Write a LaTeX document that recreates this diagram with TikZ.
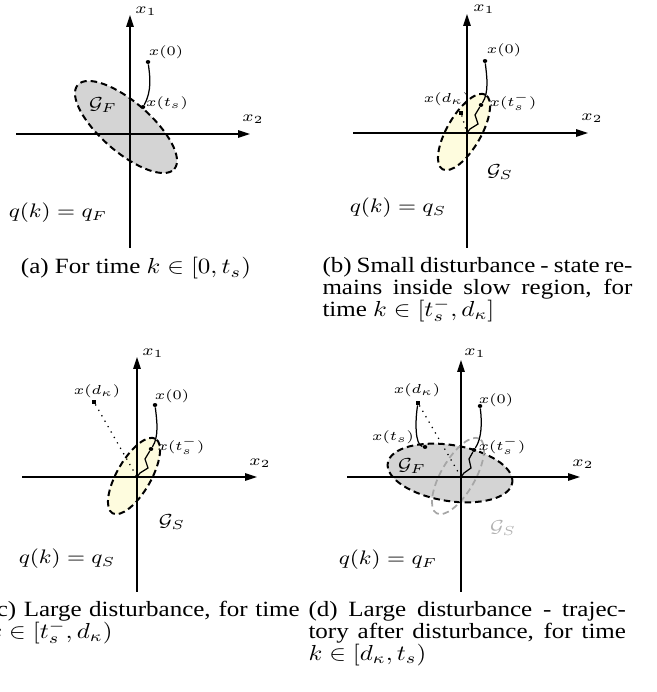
\documentclass[tikz,border=0pt]{standalone}
\usepackage{fontspec}
\setmainfont{Liberation Serif}
\usepackage{amsmath}
\usepackage{amssymb}
\usetikzlibrary{arrows.meta}
\definecolor{slowfill}{RGB}{254,252,222}
\definecolor{fastfill}{RGB}{212,212,212}
\newcommand{\capfont}{\fontsize{10}{10}\selectfont\lineskiplimit=-10pt\relax}

\begin{document}
\begin{tikzpicture}[
    x=0.4pt, y=0.4pt,
    every node/.append style={yscale=0.87, transform shape},
    axis/.style={line width=0.5pt, -{Triangle[length=4.8pt, width=3pt]}},
    fastset/.style={draw=black, fill=fastfill, dash pattern=on 2.6pt off 1.6pt, line width=0.8pt},
    slowset/.style={draw=black, fill=slowfill, dash pattern=on 2.6pt off 1.6pt, line width=0.8pt},
    oldset/.style={draw=black!35, dash pattern=on 2.6pt off 1.6pt, line width=0.7pt},
    traj/.style={line width=0.5pt},
    jump/.style={line width=0.5pt, dotted},
    statept/.style={circle, fill=black, inner sep=0pt, minimum size=1.8pt},
    distpt/.style={rectangle, fill=black, inner sep=0pt, minimum size=1.8pt},
    axlabel/.style={font=\fontsize{7}{8}\selectfont, inner sep=0pt},
    ptlabel/.style={font=\fontsize{6}{7}\selectfont, inner sep=0pt},
    setlabel/.style={font=\fontsize{8}{9}\selectfont, inner sep=0pt},
    modelabel/.style={font=\fontsize{9}{10}\selectfont, inner sep=0pt},
    subcap/.style={font=\capfont, inner sep=0pt}
]
\useasboundingbox (0,0) rectangle (657,692);

% (a) fast mode before the switch
\begin{scope}[shift={(130,558)}]
  \draw[fastset, rotate around={-41:(-4,7)}] (-4,7) ellipse [x radius=64, y radius=25];
  \draw[axis] (0,-114) -- (0,119);
  \draw[axis] (-114,0) -- (120,0);
  \node[axlabel] (ax1) at (16,123) {$x_1$};
  \node[axlabel] (ax2) at (123,15) {$x_2$};
  \node[statept] (ax0) at (18,72) {};
  \node[statept] (axts) at (13,27) {};
  \draw[traj] (ax0) .. controls +(2,-14) and +(9,16) .. (axts);
  \node[ptlabel] (ax0l) at (36,82) {$x(0)$};
  \node[ptlabel] (axtsl) at (37,31) {$x(t_s)$};
  \node[setlabel] (agf) at (-27,29) {$\mathcal{G}_F$};
  \node[modelabel] (aq) at (-72,-79) {$q(k) = q_F$};
\end{scope}

% (b) small disturbance
\begin{scope}[shift={(467,559)}]
  \draw[slowset, rotate around={60:(-3,1)}] (-3,1) ellipse [x radius=43, y radius=17];
  \draw[axis] (0,-115) -- (0,119);
  \draw[axis] (-114,0) -- (121,0);
  \coordinate (bo) at (0,0);
  \node[axlabel] (bx1) at (17,124) {$x_1$};
  \node[axlabel] (bx2) at (125,15) {$x_2$};
  \node[statept] (bx0) at (18,72) {};
  \node[statept] (bxts) at (14,28) {};
  \node[distpt] (bxd) at (-6,20) {};
  \draw[traj] (bx0) .. controls +(2,-16) and +(8,12) .. (bxts);
  \draw[traj] (bxts) -- (8,18) -- (11,9) -- (3,4) -- (bo);
  \draw[jump] (bxd) -- (bo);
  \node[ptlabel] (bx0l) at (37,83) {$x(0)$};
  \node[ptlabel] (bxtsl) at (46,31) {$x(t_s^-)$};
  \node[ptlabel] (bxdl) at (-20,34) {$x(d_\kappa)$};
  \node[setlabel] (bgs) at (33,-39) {$\mathcal{G}_S$};
  \node[modelabel] (bq) at (-69,-75) {$q(k) = q_S$};
\end{scope}

% (c) large disturbance
\begin{scope}[shift={(137,215)}]
  \draw[slowset, rotate around={60:(-3,1)}] (-3,1) ellipse [x radius=43, y radius=17];
  \draw[axis] (0,-115) -- (0,120);
  \draw[axis] (-115,0) -- (120,0);
  \coordinate (co) at (0,0);
  \node[axlabel] (cx1) at (16,124) {$x_1$};
  \node[axlabel] (cx2) at (123,14) {$x_2$};
  \node[statept] (cx0) at (18,72) {};
  \node[statept] (cxts) at (14,28) {};
  \node[distpt] (cxd) at (-43,75) {};
  \draw[traj] (cx0) .. controls +(2,-16) and +(8,12) .. (cxts);
  \draw[traj] (cxts) -- (8,18) -- (11,9) -- (3,4) -- (co);
  \draw[jump] (cxd) -- (co);
  \node[ptlabel] (cx0l) at (35,81) {$x(0)$};
  \node[ptlabel] (cxtsl) at (44,31) {$x(t_s^-)$};
  \node[ptlabel] (cxdl) at (-40,86) {$x(d_\kappa)$};
  \node[setlabel] (cgs) at (35,-45) {$\mathcal{G}_S$};
  \node[modelabel] (cq) at (-70,-82) {$q(k) = q_S$};
\end{scope}

% (d) back to fast mode after the jump
\begin{scope}[shift={(461,215)}]
  \draw[fastset, rotate around={-9:(-11,4)}] (-11,4) ellipse [x radius=63, y radius=28];
  \draw[oldset, rotate around={60:(-3,1)}] (-3,1) ellipse [x radius=43, y radius=17];
  \draw[axis] (0,-115) -- (0,117);
  \draw[axis] (-114,0) -- (119,0);
  \coordinate (do) at (0,0);
  \node[axlabel] (dx1) at (14,124) {$x_1$};
  \node[axlabel] (dx2) at (122,13) {$x_2$};
  \node[statept] (dx0) at (19,71) {};
  \node[statept] (dxtsm) at (13,27) {};
  \node[distpt] (dxd) at (-43,74) {};
  \node[statept] (dxts) at (-36,30) {};
  \draw[traj] (dx0) .. controls +(2,-16) and +(8,12) .. (dxtsm);
  \draw[traj] (dxtsm) -- (8,18) -- (10,9) -- (3,4) -- (do);
  \draw[jump] (dxd) -- (do);
  \draw[traj] (dxd) .. controls +(-3,-18) and +(-10,2) .. (dxts);
  \node[ptlabel] (dx0l) at (35,77) {$x(0)$};
  \node[ptlabel] (dxtsml) at (41,31) {$x(t_s^-)$};
  \node[ptlabel] (dxdl) at (-44,87) {$x(d_\kappa)$};
  \node[ptlabel] (dxtsl) at (-68,40) {$x(t_s)$};
  \node[setlabel] (dgf) at (-49,11) {$\mathcal{G}_F$};
  \node[setlabel, text=black!30] (dgs) at (42,-51) {$\mathcal{G}_S$};
  \node[modelabel] (dq) at (-73,-83) {$q(k) = q_F$};
\end{scope}

% captions
\node[subcap, anchor=north] (capa) at (136,435) {(a) For time $k\in[0,t_s)$};
\node[subcap, anchor=north west, text width=124pt, align=justify] (capb) at (322,435)
  {(b) Small disturbance - state re-\linebreak mains inside slow region, for\linebreak time $k\in[t_s^-,d_\kappa]$};
\node[subcap, anchor=north west, text width=124.5pt, align=justify] (capc) at (-12,91)
  {(c) Large disturbance, for time\linebreak $k\in[t_s^-,d_\kappa)$};
\node[subcap, anchor=north west, text width=127pt, align=justify] (capd) at (308,91)
  {(d) Large disturbance - trajec-\linebreak tory after disturbance, for time\linebreak $k\in[d_\kappa,t_s)$};
\end{tikzpicture}
\end{document}
